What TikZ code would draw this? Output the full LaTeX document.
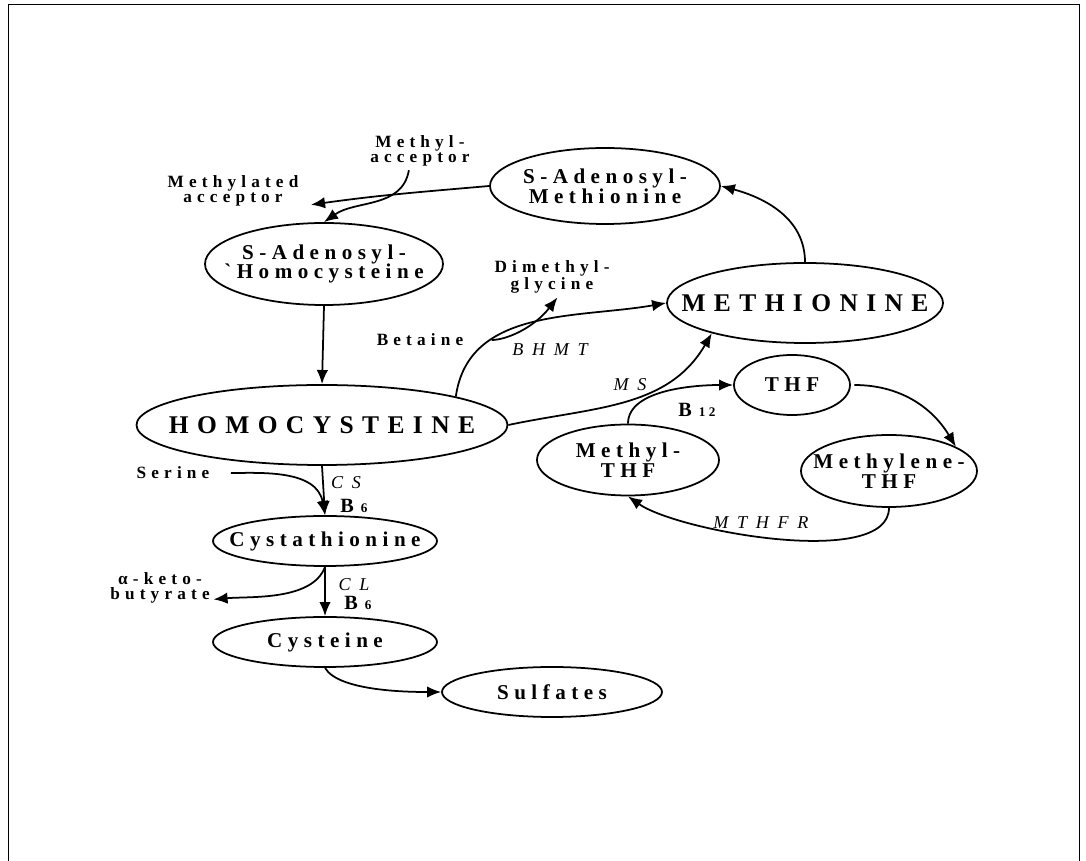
\documentclass[tikz,border=0pt]{standalone}
\usepackage{fontspec}
\setmainfont{Liberation Serif}
\newfontfamily\bigsp[LetterSpace=33]{Liberation Serif}
\newfontfamily\midsp[LetterSpace=26]{Liberation Serif}
\newfontfamily\smallsp[LetterSpace=30]{Liberation Serif}
\newfontfamily\enzsp[LetterSpace=48]{Liberation Serif}
\usetikzlibrary{arrows.meta,shapes.geometric,positioning}

\tikzset{
  metab/.style={ellipse,draw,line width=1pt,inner sep=0pt},
  bigtxt/.style={font=\bigsp\bfseries\fontsize{14.5}{14.5}\selectfont},
  midtxt/.style={font=\midsp\bfseries\fontsize{12}{11.2}\selectfont,align=center},
  sidetxt/.style={font=\smallsp\bfseries\fontsize{9.8}{8.6}\selectfont,align=center,inner sep=2pt},
  enztxt/.style={font=\enzsp\itshape\fontsize{10.3}{10}\selectfont,inner sep=1pt},
  cofac/.style={font=\midsp\bfseries\fontsize{11.5}{11}\selectfont,inner sep=1pt},
  flow/.style={line width=1pt,-{Latex[length=8pt,width=6.5pt]}}
}

\begin{document}
\begin{tikzpicture}[x=0.2mm,y=0.2mm]
\useasboundingbox (0,0) rectangle (1086,861);
% frame
\draw[line width=1pt] (8.5,0) -- (8.5,856.5) -- (1079.5,856.5) -- (1079.5,0);

% metabolites
\node[metab,minimum width=4.6cm,minimum height=1.52cm,label={[midtxt]center:{S-Adenosyl-\\Methionine}}] (sam) at (605,675) {};
\node[metab,minimum width=4.76cm,minimum height=1.64cm,label={[midtxt]center:{S-Adenosyl-\\`Homocysteine}}] (sah) at (324,597) {};
\node[metab,minimum width=5.52cm,minimum height=1.6cm,label={[bigtxt]center:METHIONINE}] (met) at (805,558) {};
\node[metab,minimum width=7.42cm,minimum height=1.6cm,label={[bigtxt]center:HOMOCYSTEINE}] (hcy) at (322,436) {};
\node[metab,minimum width=4.48cm,minimum height=1cm,label={[midtxt]center:Cystathionine}] (cysta) at (325,320) {};
\node[metab,minimum width=4.48cm,minimum height=1cm,label={[midtxt]center:Cysteine}] (cys) at (325,219) {};
\node[metab,minimum width=4.4cm,minimum height=1cm,label={[midtxt]center:Sulfates}] (sulf) at (552,169) {};

% folate cycle
\node[metab,minimum width=2.32cm,minimum height=1.2cm,label={[midtxt]center:THF}] (thf) at (792,476) {};
\node[metab,minimum width=3.64cm,minimum height=1.42cm,label={[midtxt]center:{Methyl-\\THF}}] (mthf) at (628,401) {};
\node[metab,minimum width=3.52cm,minimum height=1.44cm,label={[midtxt]center:{Methylene-\\THF}}] (mlthf) at (889,390) {};

% side products
\node[sidetxt] (macc) at (420,710) {Methyl-\\acceptor};
\node[sidetxt,inner xsep=7pt] (maccd) at (233,670) {Methylated\\acceptor};
\node[sidetxt] (dmg) at (552,584) {Dimethyl-\\glycine};
\node[sidetxt] (bet) at (420,521) {Betaine};
\node[sidetxt] (ser) at (173,388) {Serine};
\node[sidetxt] (akb) at (160,273) {α-keto-\\butyrate};

% enzymes and cofactors
\node[enztxt] (bhmt) at (550,511) {BHMT};
\node[enztxt] (ms) at (630,476) {MS};
\node[enztxt] (mthfr) at (761,338) {MTHFR};
\node[enztxt] (cs) at (346,378) {CS};
\node[enztxt] (cl) at (354,276) {CL};
\node[cofac] (b12) at (697,451) {B\hspace{4pt}{\fontsize{7.5}{7.5}\selectfont 12}};
\node[cofac] (b6a) at (354,355) {B\hspace{4pt}{\fontsize{7.5}{7.5}\selectfont 6}};
\node[cofac] (b6b) at (358,258) {B\hspace{4pt}{\fontsize{7.5}{7.5}\selectfont 6}};

% methionine cycle
\draw[flow] (sam.west) to[out=185,in=8] (maccd.-10);
\draw[flow] (macc.-120) to[out=-100,in=35] (sah.north);
\draw[flow] (sah.south) -- (hcy.north);
\draw[flow] (hcy.12) to[out=82,in=190] (met.west);
\draw[flow,shorten <=14pt] (bet.east) to[out=0,in=-128] (dmg.-75);
\draw[flow] (hcy.east) to[out=12,in=-120] (met.-162);
\draw[flow] (met.north) to[out=90,in=-15] (sam.east);

% folate cycle
\draw[flow] (mthf.north) to[out=90,in=180,looseness=0.8] (thf.west);
\draw[flow,shorten <=2pt] (thf.east) to[out=0,in=121] (mlthf.20);
\draw[flow] (mlthf.south) to[out=-90,in=-35,looseness=0.6] (mthf.south);

% transsulfuration
\draw[flow] (hcy.south) -- (cysta.north);
\draw[flow,shorten <=10pt] (ser.east) to[out=0,in=100] (cysta.north);
\draw[flow] (cysta.south) -- (cys.north);
\draw[flow] (cysta.south) to[out=-110,in=5,looseness=0.8] (akb.-12);
\draw[flow] (cys.south) to[out=-60,in=180,looseness=0.6] (sulf.west);

\end{tikzpicture}
\end{document}
